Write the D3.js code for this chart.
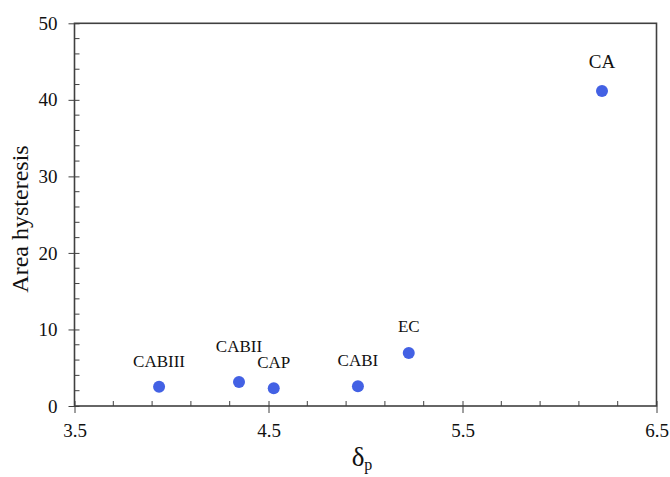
<!DOCTYPE html>
<html><head><meta charset="utf-8">
<script src="https://cdn.jsdelivr.net/npm/d3@7"></script>
<style>html,body{margin:0;padding:0;background:#fff;}svg{display:block;}svg text{font-family:"Liberation Serif","DejaVu Serif",serif !important;}</style>
</head><body>
<svg id="c" width="670" height="477"></svg>
<script>
const labels = ["CABIII","CABII","CAP","CABI","EC","CA"];
const xValues = [3.936, 4.348, 4.527, 4.961, 5.223, 6.219];
const yValues = [2.52, 3.13, 2.31, 2.57, 6.92, 41.16];
const labelOffsets = [20, 30, 20, 20, 21, 23];
const xTicks = [3.5, 4.5, 5.5, 6.5];
const yTicks = [0, 10, 20, 30, 40, 50];

const svg = d3.select("#c");
const pL = 74.5, pR = 656.5, pT = 23.3, pB = 406;
const x = d3.scaleLinear().domain([3.5, 6.5]).range([pL, pR]);
const y = d3.scaleLinear().domain([0, 50]).range([pB, pT]);
const axisColor = "#404040";

svg.append("rect").attr("x", pL).attr("y", pT).attr("width", pR-pL).attr("height", pB-pT)
  .attr("fill","none").attr("stroke", axisColor).attr("stroke-width", 1.6);

const xMinor = d3.range(3.5, 6.5001, 0.2).filter(v => !xTicks.some(t => Math.abs(t - v) < 1e-6));
svg.append("g").selectAll("line").data(xMinor).join("line")
  .attr("x1", d => x(d)).attr("x2", d => x(d)).attr("y1", pB).attr("y2", pB - 5)
  .attr("stroke", axisColor).attr("stroke-width", 1);
const xAxis = svg.append("g").attr("transform", `translate(0,${pB})`)
  .call(d3.axisBottom(x).tickValues(xTicks).tickFormat(d3.format(".1f")).tickSizeInner(7).tickSizeOuter(0));
xAxis.attr("font-family", null);
xAxis.select(".domain").remove();
xAxis.selectAll(".tick line").attr("y1", -5).attr("stroke", axisColor).attr("stroke-width", 1);
xAxis.selectAll(".tick text").attr("y", 18).attr("dy", "0.71em").attr("font-size", 19).attr("fill", "#111");

const yMinor = d3.range(0, 50.001, 2).filter(v => !yTicks.includes(v));
svg.append("g").selectAll("line").data(yMinor).join("line")
  .attr("x1", pL).attr("x2", pL + 5).attr("y1", d => y(d)).attr("y2", d => y(d))
  .attr("stroke", axisColor).attr("stroke-width", 1);
const yAxis = svg.append("g").attr("transform", `translate(${pL},0)`)
  .call(d3.axisLeft(y).tickValues(yTicks).tickSizeInner(6).tickSizeOuter(0));
yAxis.attr("font-family", null);
yAxis.select(".domain").remove();
yAxis.selectAll(".tick line").attr("x1", 5).attr("stroke", axisColor).attr("stroke-width", 1);
yAxis.selectAll(".tick text").attr("x", -17).attr("font-size", 19).attr("fill", "#111");

svg.append("text").attr("transform", `translate(28,219) rotate(-90)`)
  .attr("text-anchor", "middle").attr("font-size", 24).attr("fill", "#111").text("Area hysteresis");
const xt = svg.append("text").attr("x", 362).attr("y", 466).attr("text-anchor", "middle")
  .attr("font-size", 27).attr("fill", "#111");
xt.append("tspan").text("δ");
xt.append("tspan").attr("font-size", 16).attr("dy", 4).text("p");

const data = labels.map((l, i) => ({l, x: xValues[i], y: yValues[i], o: labelOffsets[i]}));
svg.append("g").selectAll("circle").data(data).join("circle")
  .attr("cx", d => x(d.x)).attr("cy", d => y(d.y)).attr("r", 6).attr("fill", "#4361E4");
svg.append("g").selectAll("text").data(data).join("text")
  .attr("x", d => x(d.x)).attr("y", d => y(d.y) - d.o).attr("text-anchor", "middle")
  .attr("font-size", d => d.l === "CA" ? 19 : 17).attr("fill", "#111").text(d => d.l);
</script>
</body></html>
